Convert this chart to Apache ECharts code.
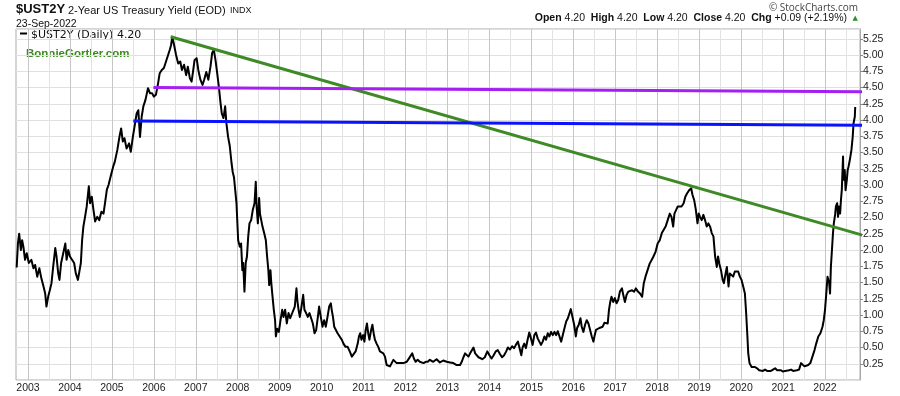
<!DOCTYPE html>
<html><head><meta charset="utf-8">
<script src="https://cdn.jsdelivr.net/npm/echarts@6/dist/echarts.min.js"></script>
<style>html,body{margin:0;padding:0;background:#fff}#c{width:900px;height:396px}</style>
</head><body><div id="c"></div>
<script>
const yearsA = [2002.73,2002.76,2002.79,2002.83,2002.86,2002.89,2002.93,2002.97,2003.02,2003.08,2003.13,2003.17,2003.22,2003.27,2003.32,2003.37,2003.41,2003.44,2003.48,2003.52,2003.56,2003.60,2003.65,2003.68,2003.72,2003.75,2003.79,2003.84,2003.89,2003.92,2003.96,2004.00,2004.05,2004.10,2004.14,2004.19,2004.22,2004.26,2004.29,2004.32,2004.36,2004.40,2004.45,2004.48,2004.52,2004.56,2004.60,2004.65,2004.70,2004.75,2004.80,2004.84,2004.88,2004.92,2004.97,2005.03,2005.07,2005.13,2005.18,2005.22,2005.26,2005.30,2005.35,2005.41,2005.45,2005.50,2005.54,2005.59,2005.63,2005.67,2005.71,2005.75,2005.80,2005.86,2005.91,2005.96,2006.00,2006.05,2006.10,2006.14,2006.19,2006.24,2006.29,2006.34,2006.38,2006.41,2006.44,2006.49,2006.53,2006.58,2006.63,2006.67,2006.72,2006.77,2006.81,2006.86,2006.90,2006.94,2006.97,2007.02,2007.06,2007.11,2007.16,2007.20,2007.25,2007.30,2007.35,2007.39,2007.43,2007.47,2007.51,2007.55,2007.59,2007.62,2007.66,2007.70,2007.73,2007.77,2007.81,2007.85,2007.88,2007.91,2007.94,2007.97];
const yieldsA = [1.73,2.10,2.25,2.00,2.15,2.05,1.85,1.95,1.80,1.85,1.72,1.77,1.59,1.72,1.56,1.44,1.33,1.13,1.28,1.38,1.49,1.74,2.03,1.90,1.64,1.54,1.80,1.95,2.10,1.85,2.00,1.90,1.85,1.80,1.64,1.54,1.51,1.80,2.15,2.36,2.51,2.67,2.98,2.72,2.82,2.62,2.44,2.51,2.46,2.59,2.56,2.74,2.93,3.00,3.13,3.28,3.36,3.54,3.74,3.87,3.67,3.72,3.56,3.64,3.51,3.74,3.90,4.10,4.15,3.74,4.05,4.21,4.31,4.49,4.41,4.41,4.36,4.39,4.56,4.72,4.77,4.80,4.90,5.00,5.08,5.15,5.28,5.13,5.00,4.87,4.90,4.77,4.85,4.69,4.82,4.64,4.59,4.77,4.92,4.95,4.77,4.62,4.54,4.62,4.74,4.62,4.82,5.03,5.08,4.92,4.72,4.51,4.26,4.10,4.03,4.21,3.95,3.74,3.60,3.35,3.20,3.12,2.92];
const yearsB = [2008.01,2008.05,2008.08,2008.11,2008.13,2008.16,2008.19,2008.22,2008.25,2008.28,2008.32,2008.36,2008.40,2008.43,2008.45,2008.48,2008.51,2008.53,2008.56,2008.59,2008.63,2008.67,2008.70,2008.73,2008.75,2008.78,2008.80,2008.83,2008.86,2008.89,2008.91,2008.94,2008.98,2009.02,2009.06,2009.09,2009.13,2009.17,2009.21,2009.25,2009.28,2009.32,2009.36,2009.40,2009.42,2009.45,2009.48,2009.52,2009.56,2009.59,2009.63,2009.67,2009.71,2009.75,2009.79,2009.83,2009.87,2009.91,2009.94,2009.98,2010.02,2010.06,2010.10,2010.14,2010.18,2010.22,2010.24,2010.27,2010.30,2010.34,2010.38,2010.43,2010.48,2010.52,2010.57,2010.62,2010.67,2010.72,2010.76,2010.81,2010.86,2010.89,2010.92,2010.95,2010.99,2011.02,2011.05,2011.08,2011.11,2011.14,2011.18,2011.21,2011.24,2011.27,2011.31,2011.35,2011.39,2011.43,2011.47,2011.51,2011.55,2011.59,2011.63,2011.67,2011.71,2011.75,2011.79,2011.83,2011.87,2011.91,2011.95,2011.99,2012.03,2012.07,2012.11,2012.16,2012.20,2012.24,2012.29,2012.34,2012.38,2012.43,2012.48,2012.53];
const yieldsB = [2.72,2.15,2.05,2.10,1.69,1.80,1.36,1.80,1.90,2.21,2.41,2.46,2.62,2.72,3.05,2.67,2.41,2.80,2.56,2.46,2.36,2.26,2.15,1.90,1.69,1.46,1.69,1.49,1.28,1.08,0.92,0.67,0.79,0.74,0.92,1.08,0.97,1.08,0.87,1.03,0.95,1.00,0.97,1.13,1.41,1.23,1.08,0.97,1.13,1.31,1.08,1.03,0.97,1.03,0.95,0.87,0.72,0.77,0.97,1.13,0.97,0.82,0.92,0.82,0.97,1.13,1.18,1.08,0.97,0.82,0.77,0.72,0.67,0.62,0.56,0.51,0.51,0.44,0.36,0.36,0.44,0.56,0.67,0.72,0.62,0.69,0.59,0.77,0.87,0.72,0.62,0.77,0.85,0.72,0.62,0.56,0.51,0.44,0.46,0.41,0.36,0.23,0.21,0.21,0.23,0.31,0.28,0.26,0.28,0.26,0.28,0.26,0.23,0.28,0.31,0.36,0.41,0.33,0.28,0.31,0.28,0.31,0.26,0.28];
const yearsC = [2012.58,2012.66,2012.74,2012.82,2012.90,2012.98,2013.06,2013.14,2013.22,2013.30,2013.34,2013.38,2013.42,2013.46,2013.50,2013.54,2013.58,2013.62,2013.66,2013.70,2013.74,2013.78,2013.83,2013.89,2013.95,2014.00,2014.05,2014.09,2014.15,2014.20,2014.25,2014.30,2014.35,2014.40,2014.44,2014.49,2014.54,2014.59,2014.63,2014.68,2014.73,2014.76,2014.79,2014.83,2014.87,2014.91,2014.95,2014.99,2015.03,2015.07,2015.11,2015.15,2015.19,2015.23,2015.27,2015.31,2015.35,2015.39,2015.43,2015.47,2015.51,2015.55,2015.59,2015.63,2015.67,2015.71,2015.75,2015.79,2015.83,2015.87,2015.91,2015.94,2015.98,2016.02,2016.06,2016.09,2016.13,2016.17,2016.20,2016.24,2016.28,2016.32,2016.36,2016.40,2016.44,2016.48,2016.51,2016.54,2016.58,2016.62,2016.66,2016.70,2016.74,2016.78,2016.82,2016.85,2016.88,2016.91,2016.95,2016.99,2017.03,2017.07,2017.11,2017.16,2017.19,2017.23,2017.27,2017.31,2017.35,2017.40,2017.45,2017.49,2017.54,2017.59,2017.64,2017.68];
const yieldsC = [0.28,0.31,0.28,0.32,0.27,0.30,0.28,0.27,0.26,0.23,0.23,0.28,0.35,0.41,0.38,0.36,0.41,0.44,0.50,0.41,0.38,0.35,0.33,0.32,0.35,0.44,0.38,0.33,0.37,0.44,0.46,0.40,0.35,0.38,0.44,0.50,0.47,0.52,0.49,0.54,0.59,0.46,0.38,0.50,0.56,0.49,0.62,0.73,0.64,0.54,0.69,0.73,0.64,0.67,0.54,0.59,0.67,0.62,0.72,0.67,0.74,0.69,0.74,0.69,0.75,0.72,0.59,0.62,0.80,0.90,0.95,0.97,1.09,0.97,0.85,0.67,0.80,0.85,0.95,0.82,0.74,0.85,0.92,0.87,0.77,0.67,0.59,0.69,0.77,0.74,0.80,0.77,0.82,0.88,0.85,0.87,1.08,1.20,1.28,1.20,1.26,1.18,1.23,1.36,1.41,1.31,1.20,1.31,1.36,1.33,1.38,1.36,1.41,1.36,1.33,1.28];
const yearsD = [2017.72,2017.77,2017.82,2017.87,2017.91,2017.96,2018.01,2018.06,2018.11,2018.15,2018.20,2018.25,2018.30,2018.34,2018.38,2018.41,2018.44,2018.49,2018.53,2018.58,2018.63,2018.67,2018.71,2018.76,2018.81,2018.84,2018.88,2018.92,2018.96,2018.99,2019.02,2019.06,2019.10,2019.14,2019.18,2019.22,2019.26,2019.30,2019.34,2019.38,2019.42,2019.45,2019.48,2019.52,2019.56,2019.59,2019.63,2019.66,2019.70,2019.73,2019.77,2019.81,2019.85,2019.89,2019.93,2019.97,2020.01,2020.05,2020.09,2020.12,2020.15,2020.17,2020.20,2020.22,2020.25,2020.29,2020.33,2020.38,2020.43,2020.47,2020.52,2020.57,2020.62,2020.66,2020.71,2020.76,2020.81,2020.86,2020.90,2020.95,2021.00,2021.05,2021.09,2021.14,2021.19,2021.24,2021.28,2021.33,2021.38,2021.43,2021.47,2021.51,2021.55,2021.60,2021.65,2021.70,2021.75,2021.79,2021.84,2021.89,2021.94,2021.97,2022.00,2022.03,2022.06,2022.10,2022.12,2022.14,2022.17,2022.19,2022.21,2022.24,2022.26,2022.29,2022.31,2022.33,2022.36,2022.38,2022.40,2022.43,2022.44,2022.47,2022.49,2022.52,2022.54,2022.56,2022.59,2022.61,2022.63,2022.66,2022.68,2022.71,2022.72,2022.73];
const yieldsD = [1.49,1.59,1.69,1.79,1.85,1.90,1.97,2.10,2.15,2.26,2.28,2.36,2.46,2.56,2.51,2.36,2.56,2.56,2.67,2.64,2.67,2.72,2.82,2.87,2.92,2.95,2.85,2.77,2.62,2.41,2.56,2.51,2.46,2.54,2.46,2.36,2.41,2.36,2.26,2.21,1.90,1.74,1.90,1.79,1.69,1.54,1.49,1.64,1.74,1.44,1.64,1.67,1.59,1.67,1.64,1.67,1.59,1.54,1.44,1.33,1.03,0.67,0.41,0.26,0.23,0.20,0.18,0.20,0.18,0.15,0.15,0.14,0.16,0.14,0.16,0.14,0.16,0.18,0.15,0.14,0.15,0.13,0.14,0.16,0.15,0.16,0.14,0.16,0.15,0.16,0.26,0.23,0.21,0.23,0.23,0.26,0.36,0.46,0.56,0.67,0.72,0.82,0.92,1.08,1.33,1.59,1.49,1.33,1.74,2.05,2.26,2.41,2.54,2.67,2.72,2.51,2.67,2.56,2.77,2.92,3.44,3.08,3.23,2.92,3.08,3.23,3.28,3.38,3.38,3.54,3.74,3.95,4.05,4.20];

// ---- Hand-drawn trend lines (endpoints in decimal year / %) ----
const greenTrendYears = [2006.40, 2023.43];
const greenTrendValues = [5.28, 2.13];
const purpleTrendYears = [2005.99, 2022.95];
const purpleTrendValues = [4.50, 4.435];
const blueTrendYears = [2005.51, 2023.67];
const blueTrendValues = [3.985, 3.918];

// ---- Axis ticks ----
const yearLabels = [2003,2004,2005,2006,2007,2008,2009,2010,2011,2012,2013,2014,2015,2016,2017,2018,2019,2020,2021,2022];
const halfYearGrid = yearLabels.flatMap(y => [y, y + 0.5]);
const yieldTickStep = 0.25;

const zip = (xs, ys) => xs.map((x, i) => [x, ys[i]]);
const priceData = zip(yearsA.concat(yearsB, yearsC, yearsD), yieldsA.concat(yieldsB, yieldsC, yieldsD));

const SANS = '"Liberation Sans", Arial, sans-serif';
const chart = echarts.init(document.getElementById('c'), null, {renderer: 'canvas'});

const trend = (name, xs, ys, color) => ({
  name, type: 'line', data: zip(xs, ys), clip: false, symbol: 'none', silent: true, z: 5,
  lineStyle: {color, width: 3, cap: 'butt'}
});

chart.setOption({
  animation: false,
  backgroundColor: '#ffffff',
  grid: {left: 16, right: 40, top: 29, bottom: 16, show: true, borderColor: '#a9a9a9', borderWidth: 1, backgroundColor: '#fff'},
  xAxis: {
    type: 'value', min: 2002.714, max: 2022.834,
    axisLine: {show: false},
    axisTick: {show: false, customValues: halfYearGrid},
    splitLine: {show: true, lineStyle: {color: ['#c6c6c6', '#e2e2e2'], width: 1}},
    axisLabel: {customValues: yearLabels, formatter: v => String(Math.round(v)), fontFamily: SANS, fontSize: 10.5, color: '#222', margin: 3}
  },
  yAxis: {
    type: 'value', position: 'right', min: 0, max: 5.4, interval: yieldTickStep,
    axisLine: {show: true, lineStyle: {color: '#a9a9a9'}},
    axisTick: {show: true, length: 3, lineStyle: {color: '#888'}},
    splitLine: {show: true, lineStyle: {color: '#e0e0e0'}},
    axisLabel: {formatter: v => v.toFixed(2), showMinLabel: false, showMaxLabel: false, fontFamily: SANS, fontSize: 10.5, color: '#222', margin: 3}
  },
  series: [
    {name: '$UST2Y', type: 'line', data: priceData, symbol: 'none', z: 3,
     lineStyle: {color: '#000', width: 2, join: 'round'}},
    trend('resistance', greenTrendYears, greenTrendValues, '#3e8a26'),
    trend('upper', purpleTrendYears, purpleTrendValues, '#a31ff2'),
    trend('lower', blueTrendYears, blueTrendValues, '#0a12ff')
  ],
  graphic: [
    {type: 'text', left: 16, top: 3, style: {text: '$UST2Y', font: 'bold 13px ' + SANS, fill: '#111'}},
    {type: 'text', left: 68, top: 5, style: {text: '2-Year US Treasury Yield (EOD)', font: '11px ' + SANS, fill: '#111'}},
    {type: 'text', left: 230, top: 6.5, style: {text: 'INDX', font: '9px ' + SANS, fill: '#111'}},
    {type: 'text', left: 16, top: 19, style: {text: '23-Sep-2022', font: '10.5px ' + SANS, fill: '#111'}},
    {type: 'text', right: 42, top: 3, style: {text: '\u00a9 StockCharts.com', font: '10px "Open Sans", sans-serif', fill: '#444'}},
    {type: 'text', right: 53, top: 12.5, style: {
      text: '{b|Open} 4.20  {b|High} 4.20  {b|Low} 4.20  {b|Close} 4.20  {b|Chg} +0.09 (+2.19%)',
      font: '10.5px ' + SANS, fill: '#111',
      rich: {b: {font: 'bold 10.5px ' + SANS, fill: '#111'}}
    }},
    {type: 'text', right: 42, top: 14.5, style: {text: '\u25b2', font: '7px "DejaVu Sans"', fill: '#2f8f2f'}},
    {type: 'rect', shape: {x: 20, y: 32.5, width: 7, height: 2}, style: {fill: '#000'}},
    {type: 'text', left: 31, top: 29.5, style: {text: '$UST2Y (Daily) 4.20', font: '11px "DejaVu Sans"', fill: '#111'}},
    {type: 'text', left: 26, top: 48, style: {text: 'BonnieGortler.com', font: 'bold 11.5px ' + SANS, fill: '#3a8a1e'}}
  ]
});
</script></body></html>
